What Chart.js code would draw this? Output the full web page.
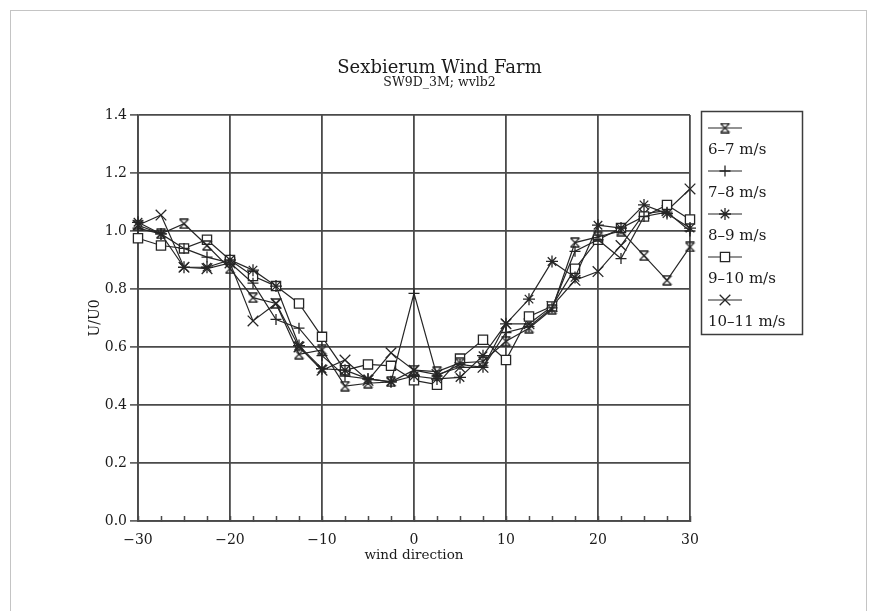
<!DOCTYPE html>
<html>
<head>
<meta charset="utf-8">
<title>Sexbierum Wind Farm</title>
<script src="https://cdn.jsdelivr.net/npm/chart.js@4.4.1/dist/chart.umd.min.js"></script>
<style>
  html, body { margin: 0; padding: 0; background: #fff; }
  #wrap { position: relative; width: 879px; height: 611px; }
  #frame { position: absolute; left: 10px; top: 10px; width: 857px; height: 610px;
           border: 1px solid #c4c4c4; border-bottom: none; box-sizing: border-box; pointer-events: none; }
  canvas { display: block; }
</style>
</head>
<body>
<div id="wrap">
  <canvas id="chart" width="879" height="611"></canvas>
  <div id="frame"></div>
</div>
<script>
// Wind direction relative to the wake axis (degrees)
const directions = [-30, -27.5, -25, -22.5, -20, -17.5, -15, -12.5, -10, -7.5, -5, -2.5,
                    0, 2.5, 5, 7.5, 10, 12.5, 15, 17.5, 20, 22.5, 25, 27.5, 30];

// Normalised wind speed U/U0 per wind-speed bin
const bin6to7 = [1.02, 0.99, 1.025, 0.95, 0.87, 0.77, 0.75, 0.575, 0.59, 0.465, 0.475, 0.48,
                 0.52, 0.515, 0.545, 0.55, 0.62, 0.665, 0.73, 0.96, 0.98, 1.00, 0.915, 0.83, 0.945];
const bin7to8 = [1.01, 0.99, 0.94, 0.91, 0.89, 0.82, 0.695, 0.665, 0.57, 0.50, 0.49, 0.48,
                 0.785, 0.50, 0.54, 0.53, 0.65, 0.67, 0.735, 0.93, 0.97, 0.905, 1.05, 1.065, 1.00];
const bin8to9 = [1.03, 0.99, 0.875, 0.875, 0.90, 0.865, 0.81, 0.605, 0.525, 0.52, 0.49, 0.48,
                 0.50, 0.49, 0.495, 0.57, 0.68, 0.765, 0.895, 0.84, 1.02, 1.01, 1.09, 1.06, 1.01];
const bin9to10 = [0.975, 0.95, 0.94, 0.97, 0.90, 0.845, 0.81, 0.75, 0.635, 0.52, 0.54, 0.535,
                  0.485, 0.47, 0.56, 0.625, 0.555, 0.705, 0.74, 0.87, 0.97, 1.01, 1.05, 1.09, 1.04];
const bin10to11 = [1.02, 1.055, 0.875, 0.87, 0.89, 0.69, 0.75, 0.60, 0.52, 0.555, 0.485, 0.58,
                   0.52, 0.505, 0.53, 0.53, 0.68, 0.68, 0.74, 0.83, 0.86, 0.95, 1.06, 1.07, 1.145];

const binLabels = ['6–7 m/s', '7–8 m/s', '8–9 m/s', '9–10 m/s', '10–11 m/s'];

const xTickValues = [-30, -20, -10, 0, 10, 20, 30];
const yTickValues = [0.0, 0.2, 0.4, 0.6, 0.8, 1.0, 1.2, 1.4];
const xMinorStep = 2.5;

const ink = '#262626';
const gridInk = '#4a4a4a';
const serif = '"DejaVu Serif", "Liberation Serif", serif';

// Hourglass marker: an X closed by bars at top and bottom
function hourglassMarker(size) {
  const c = document.createElement('canvas');
  c.width = size; c.height = size;
  const g = c.getContext('2d');
  g.strokeStyle = ink;
  g.lineWidth = 1.3;
  const a = 1, b = size - 1;
  g.beginPath();
  g.moveTo(a, a); g.lineTo(b, a);
  g.moveTo(a, b); g.lineTo(b, b);
  g.moveTo(a, a); g.lineTo(b, b);
  g.moveTo(b, a); g.lineTo(a, b);
  g.stroke();
  return c;
}

const markers = [
  { pointStyle: hourglassMarker(11), pointRadius: 6 },
  { pointStyle: 'cross', pointRadius: 5.5 },
  { pointStyle: 'star', pointRadius: 6 },
  { pointStyle: 'rect', pointRadius: 6.5 },
  { pointStyle: 'crossRot', pointRadius: 7.5 }
];

const seriesValues = [bin6to7, bin7to8, bin8to9, bin9to10, bin10to11];

const datasets = seriesValues.map((vals, i) => ({
  label: binLabels[i],
  data: directions.map((d, k) => ({ x: d, y: vals[k] })),
  borderColor: ink,
  borderWidth: 1.2,
  pointBorderColor: ink,
  pointBackgroundColor: '#fff',
  pointBorderWidth: 1.3,
  pointStyle: markers[i].pointStyle,
  pointRadius: markers[i].pointRadius,
  pointHoverRadius: markers[i].pointRadius,
  tension: 0,
  fill: false,
  clip: false
}));

const fmtSigned = v => (v < 0 ? '−' + Math.abs(v) : String(v));

// Small ticks along the direction axis, pointing into the plot
const minorTicks = {
  id: 'minorTicks',
  afterDatasetsDraw(chart) {
    const x = chart.scales.x;
    const ctx = chart.ctx;
    const bottom = chart.chartArea.bottom;
    ctx.save();
    ctx.strokeStyle = gridInk;
    ctx.lineWidth = 1.5;
    ctx.beginPath();
    for (let v = x.min; v <= x.max + 1e-9; v += xMinorStep) {
      const px = Math.round(x.getPixelForValue(v)) + 0.5;
      ctx.moveTo(px, bottom - 5);
      ctx.lineTo(px, bottom + 1);
    }
    ctx.stroke();
    ctx.restore();
  }
};

// Boxed key on the right: marker sample above each label
const sideLegend = {
  id: 'sideLegend',
  afterDraw(chart) {
    const ctx = chart.ctx;
    const area = chart.chartArea;
    const bx = area.right + 11, by = area.top - 4, bw = 101, bh = 223;
    ctx.save();
    ctx.strokeStyle = '#3c3c3c';
    ctx.lineWidth = 1.5;
    ctx.strokeRect(bx + 0.5, by + 0.5, bw, bh);
    ctx.font = '15px ' + serif;
    ctx.textBaseline = 'middle';
    ctx.textAlign = 'left';
    chart.data.datasets.forEach((ds, i) => {
      const sy = by + 17 + i * 43;
      const x0 = bx + 7, x1 = bx + 41, xm = (x0 + x1) / 2;
      ctx.strokeStyle = ink;
      ctx.lineWidth = 1.2;
      ctx.beginPath();
      ctx.moveTo(x0, sy); ctx.lineTo(x1, sy);
      ctx.stroke();
      if (ds.pointStyle instanceof HTMLCanvasElement) {
        const img = ds.pointStyle;
        ctx.drawImage(img, xm - img.width / 2, sy - img.height / 2);
      } else {
        ctx.fillStyle = '#fff';
        ctx.strokeStyle = ink;
        ctx.lineWidth = ds.pointBorderWidth;
        Chart.helpers.drawPoint(ctx, {
          pointStyle: ds.pointStyle, radius: ds.pointRadius,
          rotation: 0, borderWidth: ds.pointBorderWidth
        }, xm, sy);
      }
      ctx.fillStyle = '#1a1a1a';
      ctx.fillText(ds.label, x0, sy + 22);
    });
    ctx.restore();
  }
};

Chart.defaults.font.family = serif;
Chart.defaults.color = '#1a1a1a';

new Chart(document.getElementById('chart'), {
  type: 'line',
  data: { datasets },
  plugins: [minorTicks, sideLegend],
  options: {
    responsive: false,
    animation: false,
    devicePixelRatio: 1,
    layout: { padding: { top: 60.5, right: 0, bottom: 0, left: 0 } },
    plugins: {
      legend: { display: false },
      tooltip: { enabled: false },
      title: {
        display: true,
        text: 'Sexbierum Wind Farm',
        color: '#1a1a1a',
        font: { size: 18, weight: 'normal', lineHeight: 0.9 },
        padding: { top: 0, bottom: 0 }
      },
      subtitle: {
        display: true,
        text: 'SW9D_3M; wvlb2',
        color: '#1a1a1a',
        font: { size: 12.5, weight: 'normal', lineHeight: 1 },
        padding: { top: 0, bottom: 25.8 }
      }
    },
    scales: {
      x: {
        type: 'linear',
        min: -30, max: 30,
        afterBuildTicks: s => { s.ticks = xTickValues.map(v => ({ value: v })); },
        afterFit: s => { s.height = 90; },
        ticks: { font: { size: 14 }, padding: 11, maxRotation: 0,
                 callback: v => fmtSigned(v) },
        grid: { color: gridInk, lineWidth: 1.8, drawTicks: false },
        border: { color: gridInk, width: 1.8 },
        title: { display: true, text: 'wind direction',
                 font: { size: 13.5 }, padding: { top: 0, bottom: 47 } }
      },
      y: {
        type: 'linear',
        min: 0, max: 1.4,
        afterBuildTicks: s => { s.ticks = yTickValues.map(v => ({ value: v })); },
        afterFit: s => { s.width = 138; },
        ticks: { font: { size: 14 }, padding: 3,
                 callback: v => Number(v).toFixed(1) },
        grid: { color: gridInk, lineWidth: 1.8, tickLength: 8, tickColor: gridInk, tickWidth: 1.5 },
        border: { color: gridInk, width: 1.8 },
        title: { display: true, text: 'U/U0',
                 font: { size: 14 }, padding: { top: 87, bottom: 0 } }
      },
      // empty right-hand band that holds the key
      keyBand: {
        type: 'linear',
        position: 'right',
        min: 0, max: 1,
        afterFit: s => { s.width = 189; },
        ticks: { display: false },
        grid: { display: false, drawTicks: false },
        border: { display: false }
      }
    }
  }
});
</script>
</body>
</html>
